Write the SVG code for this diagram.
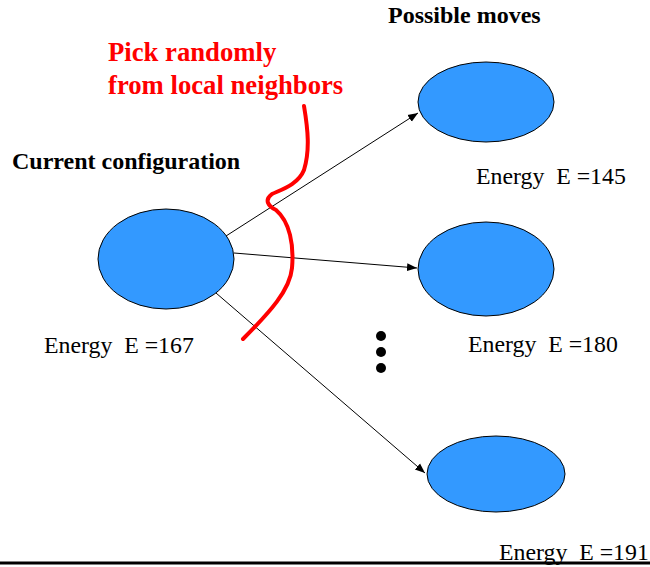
<svg xmlns="http://www.w3.org/2000/svg" width="650" height="567" viewBox="0 0 650 567">
  <defs>
    <marker id="arrow" viewBox="0 0 10 10" refX="10" refY="5" markerWidth="10" markerHeight="10" markerUnits="userSpaceOnUse" orient="auto">
      <path d="M0,1 L10,5 L0,9 z" fill="#000"/>
    </marker>
    <style>
      .node { fill: #3399ff; stroke: #000; stroke-width: 1; }
      .label { font-family: "Liberation Serif", "Times New Roman", serif; font-size: 23.8px; fill: #000; white-space: pre; }
      .title { font-family: "Liberation Serif", "Times New Roman", serif; font-size: 24px; font-weight: bold; fill: #000; }
      .note { font-family: "Liberation Serif", "Times New Roman", serif; font-size: 26.7px; font-weight: bold; fill: #ff0000; }
      .edge { stroke: #000; stroke-width: 1; fill: none; marker-end: url(#arrow); }
    </style>
  </defs>
  <rect width="650" height="567" fill="#fff"/>

  <text class="title" x="388" y="23">Possible moves</text>
  <text class="title" x="12" y="169">Current configuration</text>
  <text class="note" x="108" y="61">Pick randomly</text>
  <text class="note" x="108" y="94">from local neighbors</text>

  <g id="connectors">
    <line class="edge" x1="226" y1="236" x2="418" y2="113"/>
    <line class="edge" x1="234" y1="253" x2="417" y2="268"/>
    <line class="edge" x1="216" y1="293" x2="425" y2="473"/>
  </g>

  <g id="current">
    <ellipse class="node" cx="166" cy="259" rx="68" ry="50"/>
    <text class="label" x="44" y="353">Energy  E =167</text>
  </g>
  <g id="move1">
    <ellipse class="node" cx="486" cy="102" rx="68" ry="40"/>
    <text class="label" x="476" y="184">Energy  E =145</text>
  </g>
  <g id="move2">
    <ellipse class="node" cx="486" cy="269" rx="68" ry="47"/>
    <text class="label" x="468" y="352">Energy  E =180</text>
  </g>
  <g id="move3">
    <ellipse class="node" cx="496" cy="474" rx="69" ry="38"/>
    <text class="label" x="499" y="560">Energy  E =191</text>
  </g>

  <!-- ellipsis between the listed moves -->
  <g id="more" fill="#000">
    <circle cx="381" cy="336" r="5"/>
    <circle cx="381" cy="352" r="5"/>
    <circle cx="381" cy="368" r="5"/>
  </g>

  <!-- boundary of the local neighbourhood -->
  <path d="M304,106 C308,130 310,150 304,170 C298,185 280,190 272,194 C264,200 268,206 276,210 C290,222 294,245 292,268 C290,290 270,312 243,339" fill="none" stroke="#ff0000" stroke-width="4" stroke-linecap="round"/>

  <line x1="0" y1="563" x2="650" y2="563" stroke="#000" stroke-width="3"/>
</svg>
